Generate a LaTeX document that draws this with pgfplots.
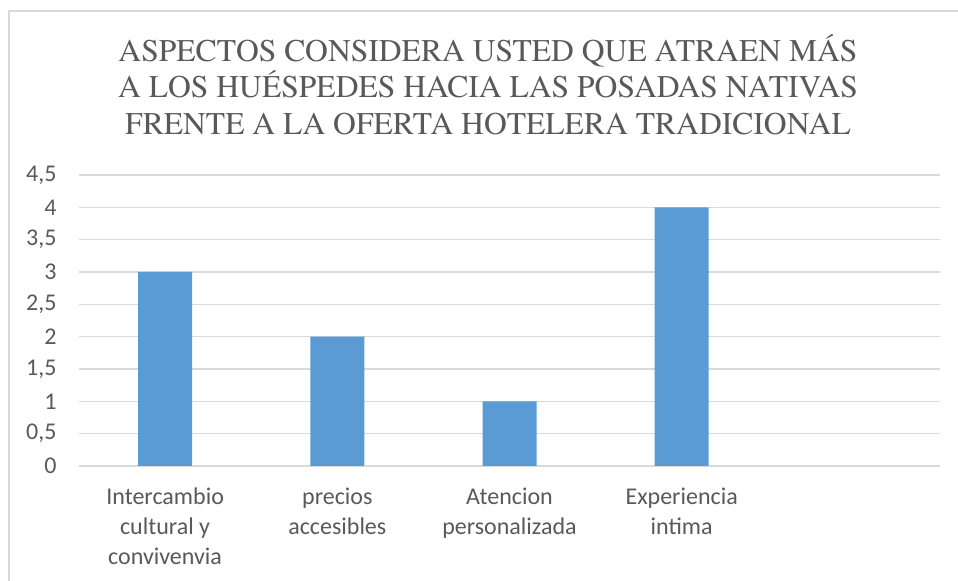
\documentclass[border=0pt]{standalone}
\usepackage{pgfplots}
\pgfplotsset{compat=1.18}
\usepackage{fontspec}
\setmainfont{Carlito}
\newfontfamily\titlefont{TeX Gyre Termes}
\definecolor{txt}{HTML}{595959}
\definecolor{bar}{HTML}{5B9BD5}
\definecolor{grd}{HTML}{D9D9D9}
\begin{document}
\begin{tikzpicture}[x=1bp,y=1bp]
\useasboundingbox (0,0) rectangle (958,581);
\draw[color=grd, line width=1.2bp] (9,0) -- (9,570) -- (958,570);
\node[font=\titlefont\fontsize{31.6bp}{38bp}\selectfont, text=txt, anchor=base] at (488,{581-62}) {ASPECTOS CONSIDERA USTED QUE ATRAEN MÁS};
\node[font=\titlefont\fontsize{31.6bp}{38bp}\selectfont, text=txt, anchor=base] at (488,{581-98}) {A LOS HUÉSPEDES HACIA LAS POSADAS NATIVAS};
\node[font=\titlefont\fontsize{31.6bp}{38bp}\selectfont, text=txt, anchor=base] at (488,{581-135}) {FRENTE A LA OFERTA HOTELERA TRADICIONAL};
\begin{axis}[
  at={(79bp,115bp)}, anchor=south west,
  scale only axis, width=861bp, height=291bp,
  xmin=-0.5, xmax=4.5, ymin=0, ymax=4.5,
  ytick={0,0.5,1,1.5,2,2.5,3,3.5,4,4.5},
  xtick={0,1,2,3},
  xticklabels={{Intercambio\\cultural y\\convivenvia},{precios\\accesibles},{Atencion\\personalizada},{Experiencia\\intima}},
  axis line style={draw=none},
  major tick length=0pt,
  ymajorgrids, grid style={color=grd, line width=1.2bp},
  /pgf/number format/.cd, use comma, fixed, precision=1, assume math mode=true,
  /pgfplots/.cd,
  tick label style={font=\fontsize{24bp}{30bp}\selectfont, text=txt},
  yticklabel style={xshift=-19bp},
  xticklabel style={align=center, yshift=-18bp},
  ybar, bar width=54bp,
]
\addplot[fill=bar, draw=none] coordinates {(0,3) (1,2) (2,1) (3,4)};
\end{axis}
\end{tikzpicture}
\end{document}
